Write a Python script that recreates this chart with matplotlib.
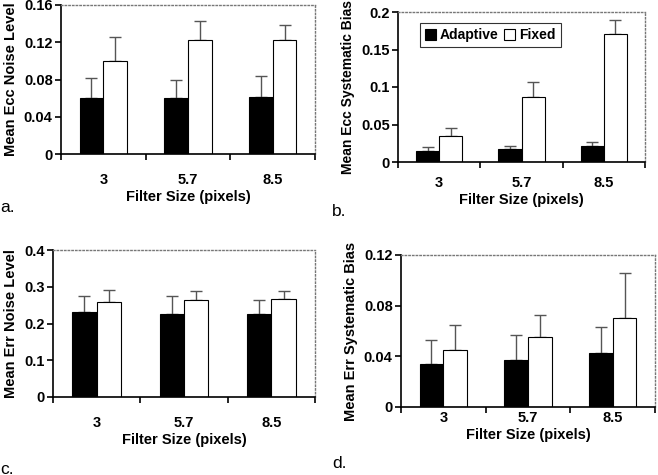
import numpy as np
import matplotlib; matplotlib.use("Agg")
import matplotlib.pyplot as plt

plt.rcParams.update({"font.family": "Liberation Sans", "font.weight": "bold", "font.size": 9.5})

sizes = ["3", "5.7", "8.5"]

# a. Ecc noise level
a_adapt = [0.060, 0.060, 0.061]
a_adapt_err = [0.022, 0.020, 0.023]
a_fixed = [0.100, 0.122, 0.122]
a_fixed_err = [0.026, 0.021, 0.016]

# b. Ecc systematic bias
b_adapt = [0.015, 0.017, 0.021]
b_adapt_err = [0.005, 0.005, 0.006]
b_fixed = [0.035, 0.087, 0.170]
b_fixed_err = [0.010, 0.020, 0.019]

# c. Err noise level
c_adapt = [0.230, 0.227, 0.227]
c_adapt_err = [0.045, 0.048, 0.038]
c_fixed = [0.258, 0.265, 0.268]
c_fixed_err = [0.032, 0.023, 0.020]

# d. Err systematic bias
d_adapt = [0.034, 0.037, 0.043]
d_adapt_err = [0.019, 0.020, 0.020]
d_fixed = [0.045, 0.055, 0.070]
d_fixed_err = [0.020, 0.018, 0.036]

W, H = 658, 475
fig = plt.figure(figsize=(W / 100, H / 100), dpi=100)


def panel(box, adapt, aerr, fixed, ferr, ymax, yticks, yticklabels, ylabel, tag, tagpos,
          tickpad, ylsize=10.5, legend=False):
    l, r, t, b = box
    ax = fig.add_axes([l / W, 1 - b / H, (r - l) / W, (b - t) / H])
    x = np.arange(len(sizes)) + 0.5
    bw = 0.28
    z = np.zeros(len(sizes))
    ax.bar(x - bw / 2, adapt, bw, color="black", edgecolor="black", lw=0.8, label="Adaptive", zorder=2)
    ax.bar(x + bw / 2, fixed, bw, color="white", edgecolor="black", lw=0.8, label="Fixed", zorder=2)
    ax.errorbar(x - bw / 2, adapt, yerr=[z, aerr], fmt="none", ecolor="#555555", elinewidth=1.0,
                capsize=4, capthick=1.0, zorder=1)
    ax.errorbar(x + bw / 2, fixed, yerr=[z, ferr], fmt="none", ecolor="#555555", elinewidth=1.0,
                capsize=4, capthick=1.0, zorder=1)
    ax.set_xlim(0, 3)
    ax.set_ylim(0, ymax)
    ax.set_yticks(yticks)
    ax.set_yticklabels(yticklabels, fontweight="bold", fontsize=10.5)
    ax.set_xticks([0, 1, 2, 3])
    ax.set_xticklabels([])
    ax.set_xticks(x, minor=True)
    ax.set_xticklabels(sizes, minor=True, fontweight="bold", fontsize=10.5)
    ax.tick_params(axis="x", which="minor", length=0, pad=tickpad)
    ax.tick_params(axis="x", which="major", direction="out", length=4, width=1.2)
    ax.tick_params(axis="y", direction="out", length=4, width=1.2, pad=2)
    for s in ["left", "bottom"]:
        ax.spines[s].set_linewidth(1.2)
    for s in ["top", "right"]:
        ax.spines[s].set_color("#777777")
        ax.spines[s].set_linestyle(":")
        ax.spines[s].set_linewidth(1.0)
    ax.set_ylabel(ylabel, fontweight="bold", fontsize=ylsize, labelpad=4)
    ax.set_xlabel("Filter Size (pixels)", fontweight="bold", fontsize=10.5, labelpad=2)
    if legend:
        lg = ax.legend(loc="upper left", ncol=2, frameon=True, fancybox=False, edgecolor="black",
                       handlelength=0.8, handleheight=0.8, handletextpad=0.3, columnspacing=0.4,
                       borderpad=0.35, bbox_to_anchor=(0.06, 0.97), prop={"weight": "bold", "size": 10})
        lg.get_frame().set_linewidth(0.8)
    fig.text(tagpos[0] / W, 1 - tagpos[1] / H, tag, fontsize=12.5, fontweight="normal", ha="left", va="center")
    return ax


panel((61, 315, 5, 154), a_adapt, a_adapt_err, a_fixed, a_fixed_err, 0.16,
      [0, 0.04, 0.08, 0.12, 0.16], ["0", "0.04", "0.08", "0.12", "0.16"],
      "Mean Ecc Noise Level", "a.", (0, 207), 14)
panel((398, 645, 12, 162), b_adapt, b_adapt_err, b_fixed, b_fixed_err, 0.2,
      [0, 0.05, 0.1, 0.15, 0.2], ["0", "0.05", "0.1", "0.15", "0.2"],
      "Mean Ecc Systematic Bias", "b.", (332, 211), 10, ylsize=10, legend=True)
panel((53, 315, 250, 397), c_adapt, c_adapt_err, c_fixed, c_fixed_err, 0.4,
      [0, 0.1, 0.2, 0.3, 0.4], ["0", "0.1", "0.2", "0.3", "0.4"],
      "Mean Err Noise Level", "c.", (0, 469), 14)
panel((401, 655, 255, 407), d_adapt, d_adapt_err, d_fixed, d_fixed_err, 0.12,
      [0, 0.04, 0.08, 0.12], ["0", "0.04", "0.08", "0.12"],
      "Mean Err Systematic Bias", "d.", (332, 463), 3)

fig.savefig("out.png", dpi=100)
